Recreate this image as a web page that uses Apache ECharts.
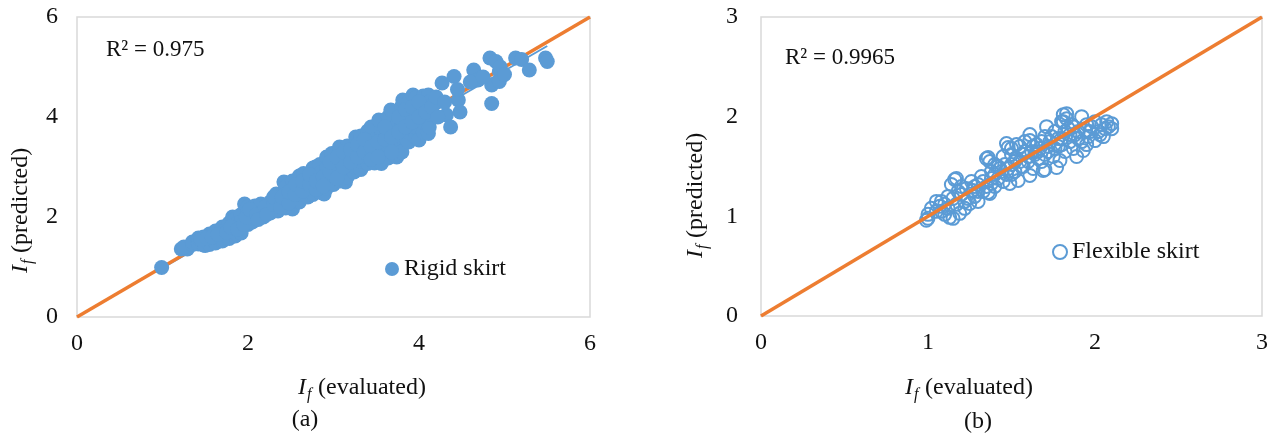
<!DOCTYPE html>
<html>
<head>
<meta charset="utf-8">
<script src="https://cdn.jsdelivr.net/npm/echarts@6/dist/echarts.min.js"></script>
<style>
html, body { margin: 0; padding: 0; background: #fff; }
#chart { width: 1277px; height: 437px; }
</style>
</head>
<body>
<div id="chart"></div>
<script>
// (a) rigid skirt: [evaluated, predicted]
const rigidPts = [
  [0.99, 0.99], [1.22, 1.36], [1.29, 1.36], [1.25, 1.4], [1.35, 1.45], [1.35, 1.5],
  [1.41, 1.53], [1.42, 1.46], [1.42, 1.58], [1.48, 1.44], [1.48, 1.6], [1.48, 1.52],
  [1.5, 1.43], [1.55, 1.5], [1.55, 1.66], [1.55, 1.45], [1.59, 1.66], [1.62, 1.55],
  [1.62, 1.72], [1.62, 1.48], [1.68, 1.56], [1.7, 1.6], [1.7, 1.8], [1.7, 1.52], [1.7, 1.7],
  [1.73, 1.73], [1.78, 1.66], [1.78, 1.88], [1.78, 1.57], [1.78, 1.76], [1.82, 2.0],
  [1.85, 1.7], [1.85, 1.95], [1.85, 1.62], [1.85, 1.84], [1.87, 1.66], [1.91, 1.73],
  [1.92, 1.78], [1.92, 2.05], [1.92, 1.68], [1.92, 1.9], [1.96, 2.26], [2.0, 1.85],
  [2.0, 2.2], [2.0, 1.95], [2.0, 2.1], [2.05, 1.9], [2.08, 2.22], [2.08, 2.02], [2.08, 2.12],
  [2.15, 2.26], [2.18, 2.0], [2.18, 2.1], [2.26, 2.08], [2.26, 2.3], [2.26, 2.18],
  [2.28, 2.13], [2.33, 2.46], [2.35, 2.12], [2.35, 2.25], [2.35, 2.35], [2.42, 2.7],
  [2.44, 2.18], [2.44, 2.6], [2.44, 2.3], [2.44, 2.45], [2.52, 2.16], [2.52, 2.72],
  [2.52, 2.35], [2.52, 2.55], [2.6, 2.3], [2.6, 2.82], [2.6, 2.45], [2.6, 2.65],
  [2.65, 2.87], [2.68, 2.55], [2.68, 2.75], [2.7, 2.4], [2.76, 2.45], [2.76, 2.98],
  [2.76, 2.6], [2.76, 2.8], [2.79, 3.0], [2.84, 2.5], [2.84, 3.05], [2.84, 2.68], [2.84, 2.88],
  [2.89, 2.46], [2.92, 2.58], [2.92, 3.2], [2.92, 2.75], [2.92, 2.98], [2.98, 3.27],
  [3.0, 2.65], [3.0, 2.82], [3.0, 3.05], [3.07, 3.4], [3.08, 2.72], [3.08, 2.9], [3.08, 3.12],
  [3.14, 2.7], [3.16, 2.8], [3.16, 3.42], [3.16, 2.98], [3.16, 3.2], [3.24, 2.9], [3.24, 3.3],
  [3.24, 3.05], [3.26, 3.6], [3.26, 3.0], [3.32, 2.95], [3.32, 3.62], [3.32, 3.12], [3.32, 3.38],
  [3.4, 3.07], [3.4, 3.72], [3.4, 3.2], [3.4, 3.48], [3.44, 3.8], [3.48, 3.08], [3.48, 3.28],
  [3.48, 3.55], [3.53, 3.94], [3.56, 3.07], [3.56, 3.35], [3.56, 3.62], [3.64, 3.18],
  [3.64, 4.0], [3.64, 3.42], [3.64, 3.7], [3.67, 4.14], [3.72, 3.22], [3.72, 3.5], [3.72, 3.8],
  [3.74, 3.2], [3.8, 3.3], [3.8, 4.22], [3.8, 3.6], [3.8, 3.9], [3.81, 4.34], [3.86, 3.54],
  [3.88, 3.5], [3.88, 4.3], [3.88, 3.7], [3.88, 4.0], [3.93, 4.44], [3.96, 3.6], [3.96, 4.38],
  [3.96, 3.8], [3.96, 4.1], [4.0, 3.54], [4.05, 3.7], [4.05, 4.42], [4.05, 3.9], [4.05, 4.2],
  [4.11, 4.44], [4.11, 3.67], [4.12, 3.8], [4.12, 4.3], [4.12, 4.05], [4.18, 4.27],
  [4.27, 4.68], [4.32, 4.04], [4.37, 3.8], [4.41, 4.81], [4.46, 4.34], [4.48, 4.1],
  [4.64, 4.94], [4.69, 4.74], [4.83, 5.18], [4.85, 4.27], [4.85, 4.64], [4.9, 5.11],
  [4.94, 4.91], [4.94, 4.71], [5.13, 5.18], [5.2, 5.15], [5.29, 4.94], [5.48, 5.18], [5.5, 5.11],
  [1.45, 1.55], [1.52, 1.58], [1.58, 1.6], [1.65, 1.65], [1.75, 1.7], [1.8, 1.8], [1.88, 1.75],
  [1.95, 1.85], [1.98, 2.0], [2.02, 2.15], [2.1, 2.05], [2.12, 1.95], [2.2, 2.2], [2.22, 2.05],
  [2.3, 2.25], [2.3, 2.4], [2.38, 2.2], [2.4, 2.4], [2.48, 2.28], [2.48, 2.5], [2.55, 2.45],
  [2.56, 2.65], [2.64, 2.52], [2.64, 2.72], [2.72, 2.65], [2.72, 2.85], [2.8, 2.55], [2.8, 2.72],
  [2.88, 2.8], [2.88, 2.62], [2.96, 2.9], [2.96, 3.1], [3.04, 2.78], [3.04, 3.2], [3.12, 3.0],
  [3.12, 3.3], [3.2, 3.1], [3.2, 3.35], [3.28, 3.2], [3.28, 3.45], [3.36, 3.3], [3.36, 3.55],
  [3.44, 3.4], [3.44, 3.15], [3.52, 3.5], [3.52, 3.2], [3.6, 3.55], [3.6, 3.8], [3.68, 3.6],
  [3.68, 3.3], [3.76, 3.7], [3.76, 4.0], [3.84, 3.8], [3.84, 4.15], [3.92, 3.9], [3.92, 4.2],
  [4.0, 4.0], [4.0, 4.3], [4.08, 4.1], [4.15, 4.2], [4.2, 4.4], [4.22, 4.0], [4.3, 4.3],
  [4.45, 4.55], [4.6, 4.7], [4.75, 4.8], [4.95, 5.0], [5.0, 4.85]
];
const rigidTrend = [[1.0, 0.98], [5.5, 5.42]];
const rigidDiag = [[0, 0], [6, 6]];
const rigidTicks = { min: 0, max: 6, interval: 2 };

// (b) flexible skirt: [evaluated, predicted]
const flexPts = [
  [1.0, 0.98], [0.99, 0.96], [1.0, 1.02], [1.05, 1.05], [1.05, 1.15], [1.07, 1.1], [1.08, 1.15],
  [1.1, 1.02], [1.12, 1.2], [1.13, 0.99], [1.15, 0.98], [1.14, 1.32], [1.16, 1.37], [1.17, 1.38],
  [1.17, 1.12], [1.19, 1.03], [1.2, 1.22], [1.2, 1.3], [1.22, 1.08], [1.24, 1.18], [1.25, 1.13],
  [1.26, 1.35], [1.27, 1.26], [1.28, 1.2], [1.3, 1.32], [1.3, 1.15], [1.32, 1.4], [1.33, 1.25],
  [1.35, 1.58], [1.36, 1.59], [1.36, 1.24], [1.37, 1.23], [1.38, 1.45], [1.38, 1.33], [1.4, 1.52],
  [1.4, 1.3], [1.42, 1.38], [1.43, 1.48], [1.45, 1.6], [1.45, 1.35], [1.47, 1.73], [1.47, 1.42],
  [1.48, 1.69], [1.49, 1.33], [1.5, 1.52], [1.5, 1.62], [1.52, 1.45], [1.53, 1.58], [1.54, 1.36],
  [1.55, 1.7], [1.56, 1.5], [1.57, 1.62], [1.58, 1.75], [1.6, 1.55], [1.61, 1.41], [1.61, 1.76],
  [1.61, 1.82], [1.62, 1.65], [1.63, 1.48], [1.65, 1.72], [1.66, 1.58], [1.67, 1.68], [1.68, 1.55],
  [1.69, 1.46], [1.7, 1.8], [1.7, 1.47], [1.71, 1.9], [1.72, 1.65], [1.73, 1.75], [1.75, 1.6],
  [1.76, 1.85], [1.77, 1.49], [1.78, 1.7], [1.79, 1.56], [1.8, 1.78], [1.8, 1.95], [1.81, 2.02],
  [1.82, 1.65], [1.83, 2.03], [1.84, 1.88], [1.85, 1.75], [1.86, 1.92], [1.87, 1.68], [1.88, 1.82],
  [1.89, 1.6], [1.9, 1.78], [1.92, 2.0], [1.93, 1.66], [1.94, 1.86], [1.95, 1.72], [1.96, 1.8],
  [1.98, 1.9], [2.0, 1.76], [2.02, 1.85], [2.04, 1.92], [2.05, 1.8], [2.07, 1.95], [2.08, 1.9],
  [2.1, 1.88], [2.1, 1.93],
  [1.02, 1.08], [1.08, 1.05], [1.1, 1.12], [1.12, 1.08], [1.15, 1.18], [1.18, 1.25], [1.22, 1.15],
  [1.23, 1.28], [1.28, 1.3], [1.3, 1.25], [1.33, 1.35], [1.35, 1.3], [1.38, 1.38], [1.4, 1.42],
  [1.42, 1.5], [1.44, 1.45], [1.46, 1.52], [1.48, 1.48], [1.5, 1.42], [1.52, 1.55], [1.55, 1.55],
  [1.57, 1.5], [1.58, 1.65], [1.6, 1.6], [1.63, 1.7], [1.64, 1.62], [1.66, 1.65], [1.68, 1.75],
  [1.7, 1.62], [1.72, 1.7], [1.74, 1.8], [1.76, 1.68], [1.78, 1.78], [1.8, 1.72], [1.82, 1.85],
  [1.85, 1.82], [1.87, 1.9], [1.9, 1.85], [1.92, 1.75], [1.95, 1.92], [1.97, 1.85], [2.0, 1.95],
  [2.03, 1.82], [2.06, 1.88], [1.83, 1.98], [1.81, 1.95], [1.37, 1.55], [1.5, 1.68], [1.53, 1.72]
];
const flexDiag = [[0, 0], [3, 3]];
const flexTicks = { min: 0, max: 3, interval: 1 };

const BLUE = '#5B9BD5';
const ORANGE = '#ED7D31';
const FONT = '"Liberation Serif", "Times New Roman", serif';

const chart = echarts.init(document.getElementById('chart'));

function axis (idx, ticks, margin) {
  return {
    type: 'value', gridIndex: idx,
    min: ticks.min, max: ticks.max, interval: ticks.interval,
    axisLine: { show: false }, axisTick: { show: false }, splitLine: { show: false },
    axisLabel: { fontFamily: FONT, fontSize: 24, color: '#111', margin: margin }
  }
}

// "I_f (xxx)" title, drawn as three pieces so the f can sit low
function ifTitle (x, y, rest, rotate) {
  const base = { fill: '#111', verticalAlign: 'middle' };
  return {
    type: 'group', x: x, y: y, rotation: rotate ? Math.PI / 2 : 0, silent: true,
    children: [
      { type: 'text', x: 0, y: 0, style: Object.assign({ text: 'I', font: 'italic 24px ' + FONT }, base) },
      { type: 'text', x: 9, y: 7, style: Object.assign({ text: 'f', font: 'italic 16px ' + FONT }, base) },
      { type: 'text', x: 20, y: 0, style: Object.assign({ text: rest, font: '24px ' + FONT }, base) }
    ]
  }
}

function plainText (x, y, str, size) {
  return {
    type: 'text', x: x, y: y, silent: true,
    style: { text: str, font: size + 'px ' + FONT, fill: '#111', align: 'center', verticalAlign: 'middle' }
  }
}

const option = {
  animation: false,
  backgroundColor: '#fff',
  grid: [
    { left: 77, top: 17, width: 513, height: 300, show: true, borderColor: '#d9d9d9', borderWidth: 1.5 },
    { left: 761, top: 17, width: 501, height: 299, show: true, borderColor: '#d9d9d9', borderWidth: 1.5 }
  ],
  xAxis: [axis(0, rigidTicks, 15), axis(1, flexTicks, 15)],
  yAxis: [axis(0, rigidTicks, 19), axis(1, flexTicks, 23)],
  legend: [
    {
      data: ['Rigid skirt'], left: 380, top: 252, itemWidth: 14, itemHeight: 14, icon: 'circle',
      textStyle: { fontFamily: FONT, fontSize: 24, color: '#111' }
    },
    {
      data: ['Flexible skirt'], left: 1047, top: 235, itemWidth: 14, itemHeight: 14, icon: 'circle',
      itemStyle: { color: 'transparent', borderColor: BLUE, borderWidth: 2 },
      textStyle: { fontFamily: FONT, fontSize: 24, color: '#111' }
    }
  ],
  graphic: [
    { type: 'text', x: 106, y: 50, silent: true,
      style: { text: 'R² = 0.975', font: '23px ' + FONT, fill: '#111', verticalAlign: 'middle' } },
    { type: 'text', x: 785, y: 58, silent: true,
      style: { text: 'R² = 0.9965', font: '23px ' + FONT, fill: '#111', verticalAlign: 'middle' } },
    ifTitle(298, 388, '(evaluated)', false),
    ifTitle(905, 388, '(evaluated)', false),
    ifTitle(21, 273, '(predicted)', true),
    ifTitle(696, 258, '(predicted)', true),
    plainText(305, 420, '(a)', 24),
    plainText(978, 422, '(b)', 24)
  ],
  series: [
    {
      type: 'line', xAxisIndex: 0, yAxisIndex: 0, data: rigidTrend, symbol: 'none', z: 1,
      lineStyle: { color: BLUE, width: 2 }
    },
    {
      type: 'line', xAxisIndex: 0, yAxisIndex: 0, data: rigidDiag, symbol: 'none', z: 2,
      lineStyle: { color: ORANGE, width: 3.5 }
    },
    {
      name: 'Rigid skirt', type: 'scatter', xAxisIndex: 0, yAxisIndex: 0, data: rigidPts, z: 3,
      symbol: 'circle', symbolSize: 15, itemStyle: { color: BLUE, opacity: 1 }
    },
    {
      name: 'Flexible skirt', type: 'scatter', xAxisIndex: 1, yAxisIndex: 1, data: flexPts, z: 2,
      symbol: 'circle', symbolSize: 13,
      itemStyle: { color: 'transparent', borderColor: BLUE, borderWidth: 2, opacity: 1 }
    },
    {
      type: 'line', xAxisIndex: 1, yAxisIndex: 1, data: flexDiag, symbol: 'none', z: 3,
      lineStyle: { color: ORANGE, width: 3.5 }
    }
  ]
};

chart.setOption(option);
</script>
</body>
</html>
